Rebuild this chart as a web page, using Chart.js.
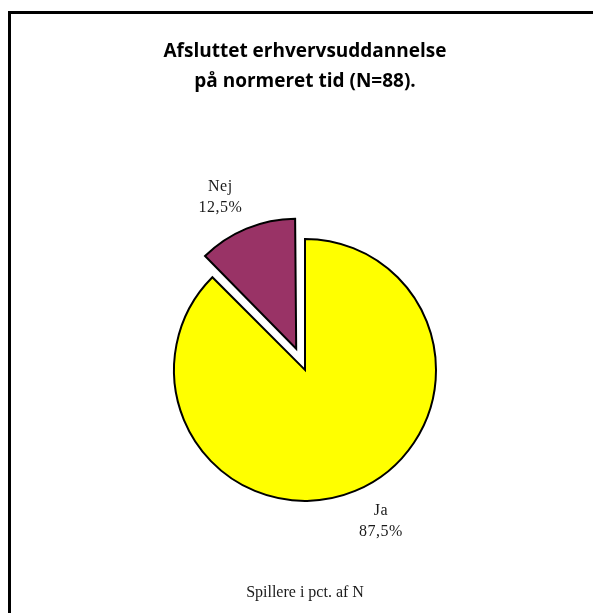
<!DOCTYPE html>
<html>
<head>
<meta charset="utf-8">
<script src="https://cdn.jsdelivr.net/npm/chart.js@4/dist/chart.umd.min.js"></script>
<style>
  html, body { margin: 0; padding: 0; background: #fff; }
  canvas { display: block; }
</style>
</head>
<body>
<canvas id="c" width="593" height="613"></canvas>
<script>
const titleLines = ['Afsluttet erhvervsuddannelse', 'på normeret tid (N=88).'];
const footerText = 'Spillere i pct. af N';
const categories = ['Ja', 'Nej'];
const values = [87.5, 12.5];
const sliceColors = ['#FFFF00', '#993366'];
// Chart.js v4 moves an arc by offset/4 pixels
const sliceOffsets = [0, 92];

function fmtPct(v) { return v.toFixed(1).replace('.', ',') + '%'; }

const framePlugin = {
  id: 'frame',
  beforeDraw(chart) {
    const ctx = chart.ctx;
    ctx.save();
    ctx.fillStyle = '#fff';
    ctx.fillRect(0, 0, chart.width, chart.height);
    ctx.strokeStyle = '#000';
    ctx.lineWidth = 3;
    ctx.strokeRect(9.5, 12.5, 700, 700);
    ctx.restore();
  }
};

// keep exploded slices at the same radius as the rest of the pie
const explodeFixPlugin = {
  id: 'explodeFix',
  beforeDatasetsDraw(chart) {
    const meta = chart.getDatasetMeta(0);
    const R = meta.controller.outerRadius;
    meta.data.forEach(arc => {
      const off = (arc.options.offset || 0) / 4;
      const circ = arc.endAngle - arc.startAngle;
      const fix = 1 - Math.sin(Math.min(Math.PI, circ));
      arc.outerRadius = R - off * fix - (off > 0 ? 1 : 0);
    });
  }
};

const labelPlugin = {
  id: 'sliceLabels',
  afterDatasetsDraw(chart) {
    const ctx = chart.ctx;
    const meta = chart.getDatasetMeta(0);
    const ds = chart.data.datasets[0];
    const R = meta.controller.outerRadius;
    ctx.save();
    ctx.font = '16px "Liberation Serif", serif';
    ctx.fillStyle = '#1a1a1a';
    ctx.textAlign = 'center';
    ctx.textBaseline = 'middle';
    if ('letterSpacing' in ctx) ctx.letterSpacing = '0.5px';
    const lineH = 21;
    meta.data.forEach((arc, i) => {
      const p = arc.getProps(['x', 'y', 'startAngle', 'endAngle'], true);
      const mid = (p.startAngle + p.endAngle) / 2;
      const off = (ds.offset[i] || 0) / 4;
      const r = R + off + 10;
      const ax = p.x + Math.cos(mid) * r;
      const ay = p.y + Math.sin(mid) * r;
      const lines = [chart.data.labels[i], fmtPct(ds.data[i])];
      const w = Math.max(...lines.map(t => ctx.measureText(t).width));
      const h = lineH * lines.length;
      const left = Math.cos(mid) >= 0 ? ax : ax - w;
      const top = Math.sin(mid) >= 0 ? ay : ay - h;
      lines.forEach((t, k) => ctx.fillText(t, left + w / 2, top + lineH * (k + 0.5)));
    });
    ctx.restore();
  }
};

new Chart(document.getElementById('c'), {
  type: 'pie',
  data: {
    labels: categories,
    datasets: [{
      data: values,
      backgroundColor: sliceColors,
      borderColor: '#000',
      borderWidth: 2,
      borderJoinStyle: 'miter',
      offset: sliceOffsets
    }]
  },
  options: {
    responsive: false,
    animation: false,
    radius: 131,
    layout: { padding: { left: 17, right: 0, top: 0, bottom: 0 } },
    plugins: {
      legend: { display: false },
      tooltip: { enabled: false },
      title: {
        display: true,
        text: titleLines,
        color: '#000',
        font: { family: '"Open Sans", sans-serif', size: 19, weight: 'bold', lineHeight: 1.58 },
        padding: { top: 37, bottom: 60 }
      },
      subtitle: {
        display: true,
        position: 'bottom',
        text: footerText,
        color: '#1a1a1a',
        font: { family: '"Liberation Serif", serif', size: 16, lineHeight: 1.2 },
        padding: { top: 0, bottom: 11 }
      }
    }
  },
  plugins: [framePlugin, explodeFixPlugin, labelPlugin]
});
</script>
</body>
</html>
